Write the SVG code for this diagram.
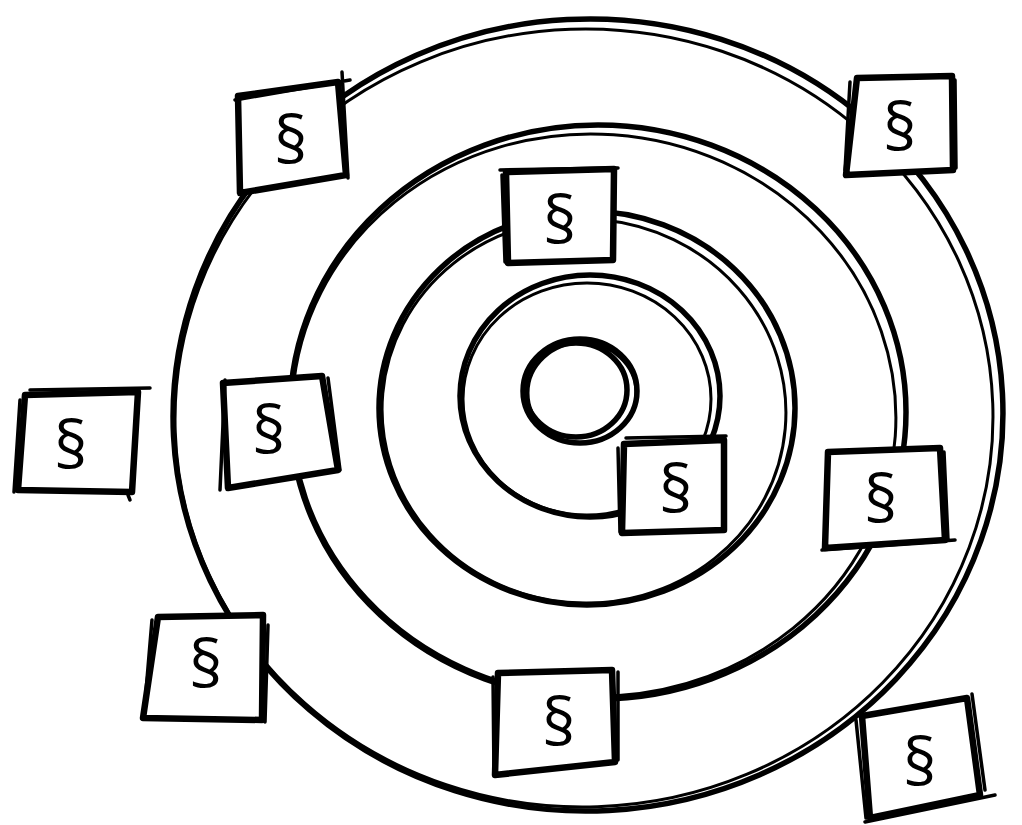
<svg xmlns="http://www.w3.org/2000/svg" width="1022" height="825" viewBox="0 0 1022 825">
<style>
.ring{fill:none;stroke:#000;stroke-width:5.5;stroke-linecap:round}
.ring2{fill:none;stroke:#000;stroke-width:3}
.box{fill:#fff;stroke:#000;stroke-width:6.5;stroke-linejoin:round}
.sk{fill:none;stroke:#000;stroke-width:3.5;stroke-linecap:round}
.lbl{font-family:"Open Sans","Noto Sans",sans-serif;font-size:66px;fill:#000;text-anchor:middle;dominant-baseline:central}
</style>
<rect width="1022" height="825" fill="#fff"/>
<g id="connectors">
<ellipse class="ring" cx="588" cy="415" rx="415" ry="396" transform="rotate(-3 588 415)"/>
<ellipse class="ring2" cx="584" cy="418" rx="409" ry="389" transform="rotate(-2 584 418)"/>
<ellipse class="ring" cx="598" cy="412" rx="308" ry="287"/>
<ellipse class="ring2" cx="594" cy="415" rx="302" ry="281" transform="rotate(4 594 415)"/>
<ellipse class="ring" cx="587" cy="408" rx="208" ry="197"/>
<ellipse class="ring2" cx="584" cy="411" rx="202" ry="192" transform="rotate(5 584 411)"/>
<ellipse class="ring" cx="590" cy="396" rx="130" ry="121"/>
<ellipse class="ring2" cx="587" cy="399" rx="124" ry="116"/>
<ellipse class="ring" cx="580" cy="391" rx="57" ry="52"/>
<ellipse class="ring" cx="576" cy="390" rx="51" ry="47"/>
<ellipse class="ring2" cx="582" cy="393" rx="54" ry="50"/>
</g>
<g id="n1"><polygon class="box" points="238,96 338,82 346,175 240,193"/><path class="sk" d="M235,100 L350,80 M342,72 L348,178"/><text class="lbl" x="291" y="138">§</text></g>
<g id="n2"><polygon class="box" points="857,78 952,76 953,170 846,175"/><path class="sk" d="M850,82 L845,170 M955,80 L956,168"/><text class="lbl" x="900" y="125">§</text></g>
<g id="n3"><polygon class="box" points="506,172 614,169 613,260 508,263"/><path class="sk" d="M502,175 L505,262 M500,170 L618,168"/><text class="lbl" x="560" y="218">§</text></g>
<g id="n4"><polygon class="box" points="25,395 138,392 132,492 18,490"/><path class="sk" d="M20,400 L14,492 M30,390 L150,388 M128,495 L130,500"/><text class="lbl" x="71" y="443">§</text></g>
<g id="n5"><polygon class="box" points="223,383 322,376 338,470 228,488"/><path class="sk" d="M328,378 L340,470 M225,380 L220,490"/><text class="lbl" x="269" y="428">§</text></g>
<g id="n6"><polygon class="box" points="624,444 724,440 724,530 622,533"/><path class="sk" d="M618,448 L620,532 M626,438 L726,436"/><text class="lbl" x="676" y="487">§</text></g>
<g id="n7"><polygon class="box" points="828,452 940,448 945,540 825,548"/><path class="sk" d="M944,452 L948,540 M822,550 L955,540"/><text class="lbl" x="881" y="497">§</text></g>
<g id="n8"><polygon class="box" points="158,617 263,615 262,720 143,718"/><path class="sk" d="M152,620 L144,715 M268,625 L265,722"/><text class="lbl" x="206" y="662">§</text></g>
<g id="n9"><polygon class="box" points="498,673 612,670 615,762 495,775"/><path class="sk" d="M493,677 L494,775 M618,672 L618,760"/><text class="lbl" x="559" y="720">§</text></g>
<g id="n10"><polygon class="box" points="862,716 967,698 980,795 870,818"/><path class="sk" d="M856,720 L866,818 M972,694 L985,790 M865,822 L995,795"/><text class="lbl" x="920" y="760">§</text></g>
</svg>
